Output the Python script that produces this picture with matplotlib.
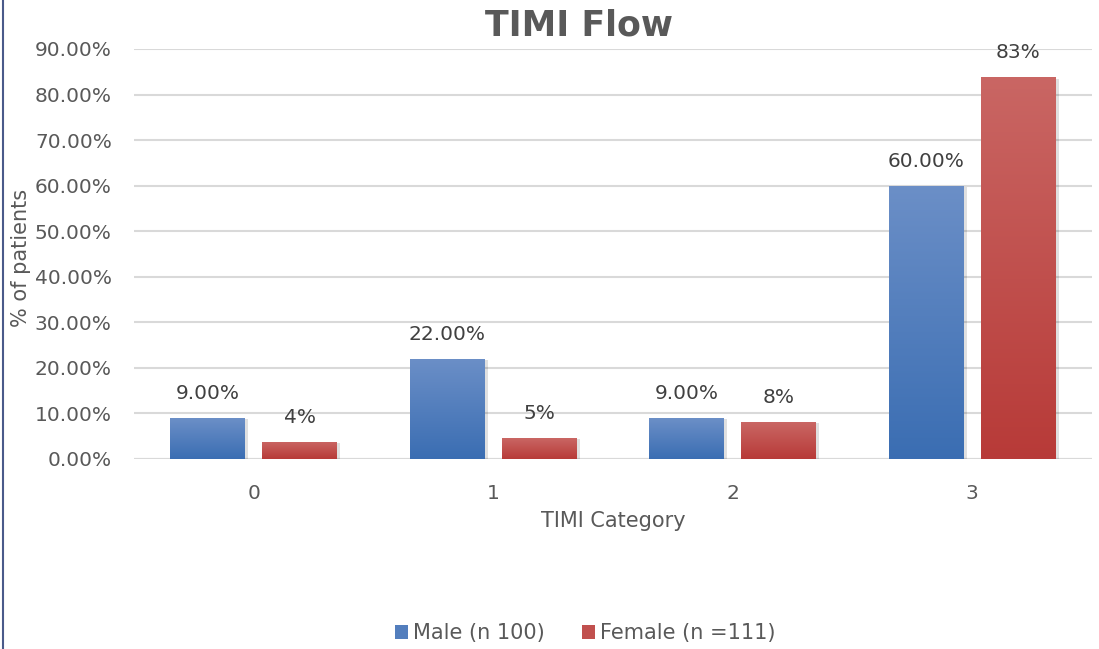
import matplotlib
matplotlib.use("Agg")
import matplotlib.pyplot as plt
import numpy as np
from matplotlib.lines import Line2D
from matplotlib.patches import Rectangle

categories = ["0", "1", "2", "3"]
male = [9.0, 22.0, 9.0, 60.0]
female = [3.8, 4.6, 8.1, 83.8]
male_labels = ["9.00%", "22.00%", "9.00%", "60.00%"]
female_labels = ["4%", "5%", "8%", "83%"]
series_names = ["Male (n 100)", "Female (n =111)"]
yticks = [0, 10, 20, 30, 40, 50, 60, 70, 80, 90]

W, H = 1099, 649
fig = plt.figure(figsize=(W / 100, H / 100), dpi=100)
ax = fig.add_axes([134 / W, 1 - 459 / H, (1092 - 134) / W, (459 - 49) / H])

x = np.arange(len(categories))
bw = 0.313
gap = 0.071
off = (bw + gap) / 2

blue_top, blue_bot = np.array([0.42, 0.56, 0.78]), np.array([0.23, 0.43, 0.70])
red_top, red_bot = np.array([0.79, 0.40, 0.39]), np.array([0.72, 0.23, 0.22])

def grad_bar(xc, h, top, bot):
    x0 = xc - bw / 2
    sh = Rectangle((x0 + 0.012, 0), bw, h - 0.3, facecolor="#000000", alpha=0.12,
                   edgecolor="none", zorder=2)
    ax.add_patch(sh)
    n = 64
    t = np.linspace(0, 1, n)[:, None]
    img = top[None, :] * (1 - t) + bot[None, :] * t
    img = img[:, None, :]
    im = ax.imshow(img, extent=(x0, x0 + bw, 0, h), aspect="auto", zorder=3,
                   interpolation="bilinear")
    rect = Rectangle((x0, 0), bw, h, facecolor="none", edgecolor="none", zorder=3)
    ax.add_patch(rect)
    im.set_clip_path(rect)

for i in range(len(categories)):
    grad_bar(x[i] - off, male[i], blue_top, blue_bot)
    grad_bar(x[i] + off, female[i], red_top, red_bot)
    ax.text(x[i] - off, male[i] + 3.3, male_labels[i], ha="center", va="bottom",
            fontsize=14.5, color="#404040")
    ax.text(x[i] + off, female[i] + 3.3, female_labels[i], ha="center", va="bottom",
            fontsize=14.5, color="#404040")

ax.set_xlim(-0.5, len(categories) - 0.5)
ax.set_ylim(0, 90)
ax.set_yticks(yticks)
ax.set_yticklabels([f"{v:.2f}%" for v in yticks])
ax.set_xticks(x)
ax.set_xticklabels(categories)
ax.tick_params(axis="both", length=0, labelsize=14.5, colors="#595959")
ax.tick_params(axis="y", pad=16)
ax.tick_params(axis="x", pad=18)
ax.grid(axis="y", color="#d9d9d9", linewidth=1.5, zorder=0)
ax.set_axisbelow(True)
for s in ax.spines.values():
    s.set_visible(False)
ax.axhline(0, color="#d9d9d9", linewidth=1.5, zorder=1)

ax.set_xlabel("TIMI Category", fontsize=15, color="#595959", labelpad=6)
fig.text(21 / W, 1 - 258 / H, "% of patients", rotation=90, ha="center", va="center",
         fontsize=15, color="#595959")
fig.text(579 / W, 1 - 26 / H, "TIMI Flow", ha="center", va="center", fontsize=25,
         fontweight="bold", color="#595959")

handles = [Rectangle((0, 0), 1, 1, facecolor=tuple((blue_top + blue_bot) / 2)),
           Rectangle((0, 0), 1, 1, facecolor=tuple((red_top + red_bot) / 2))]
fig.legend(handles, series_names, loc="center", bbox_to_anchor=(585 / W, 1 - 633 / H),
           ncol=2, frameon=False, fontsize=15, labelcolor="#595959",
           handlelength=0.65, handleheight=0.65, handletextpad=0.2, columnspacing=1.8)

fig.add_artist(Line2D([2.5 / W, 2.5 / W], [0, 1], color="#4a5a8a", linewidth=1.5))

fig.savefig("out.png", dpi=100)
